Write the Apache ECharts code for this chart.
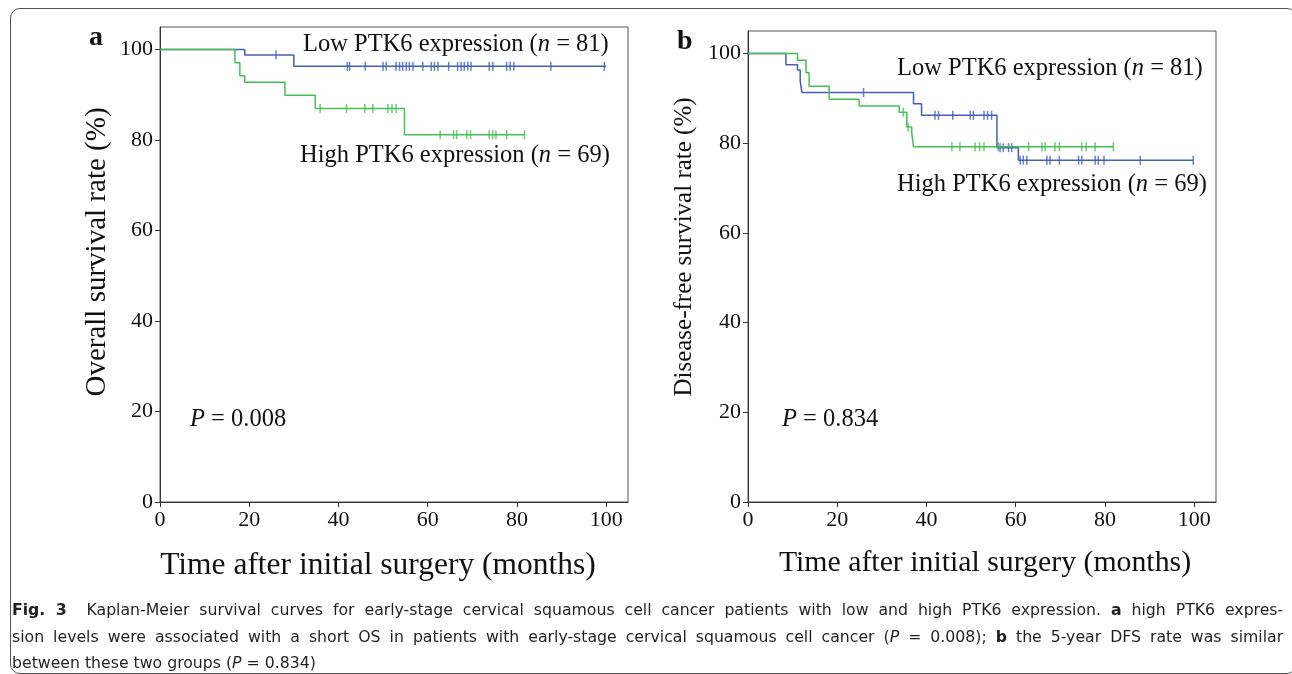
<!DOCTYPE html>
<html>
<head>
<meta charset="utf-8">
<script src="https://cdn.jsdelivr.net/npm/echarts@6/dist/echarts.min.js"></script>
<style>
  html, body { margin: 0; padding: 0; background: #fff; }
  #chart { position: absolute; left: 0; top: 0; width: 1292px; height: 674px; }
  .frame {
    position: absolute; left: 10px; top: 8px; width: 1285px; height: 664px;
    border: 1px solid #555; border-radius: 10px;
  }
  .caption {
    position: absolute; left: 12px; top: 597px; width: 1135px;
    transform: scaleX(1.12); transform-origin: 0 0;
    font-family: "Liberation Sans Narrow", "DejaVu Sans Condensed", "Liberation Sans", sans-serif;
    font-stretch: condensed;
    font-size: 15.6px; line-height: 26.5px; color: #231f20;
  }
  .caption .j { text-align: justify; text-align-last: justify; }
</style>
</head>
<body>
<div class="frame"></div>
<div id="chart"></div>
<div class="caption">
  <div class="j"><b>Fig. 3</b>&nbsp; Kaplan-Meier survival curves for early-stage cervical squamous cell cancer patients with low and high PTK6 expression. <b>a</b> high PTK6 expres-</div>
  <div class="j">sion levels were associated with a short OS in patients with early-stage cervical squamous cell cancer (<i>P</i> = 0.008); <b>b</b> the 5-year DFS rate was similar</div>
  <div>between these two groups (<i>P</i> = 0.834)</div>
</div>
<script>
// axis ticks
const tickValues = [0, 20, 40, 60, 80, 100]

// panel a: overall survival, step times (months) and survival (%)
const osLowTime = [0, 19.0, 30.0, 100]
const osLowSurv = [100, 98.8, 96.3, 96.3]
const osLowCensor = [26, 42, 42.5, 46, 50, 50.7, 52.9, 53.7, 54.4, 55.2, 55.9, 56.7, 58.9,
  60.8, 61.5, 62.3, 64.7, 66.7, 67.5, 68.2, 69.0, 69.7, 73.8, 74.6, 77.7, 78.5, 79.3, 87.6, 99.6]
const osHighTime = [0, 16.8, 17.9, 19.0, 28.0, 34.8, 54.8, 81.7]
const osHighSurv = [100, 97.1, 94.2, 92.8, 89.9, 87.0, 81.2, 81.2]
const osHighCensor = [35.9, 41.8, 45.9, 47.7, 51.1, 52.0, 52.9,
  62.8, 65.8, 66.5, 68.8, 69.6, 73.8, 74.6, 75.3, 77.7, 81.7]

// panel b: disease-free survival
const dfsLowTime = [0, 8.5, 11.1, 11.7, 12.1, 37.1, 38.9, 55.8, 60.6, 99.8]
const dfsLowSurv = [100, 97.5, 96.3, 93.8, 91.3, 88.8, 86.2, 79.0, 76.2, 76.2]
const dfsLowCensor = [25.9, 41.9, 42.7, 45.9, 49.8, 50.5, 52.9, 53.7, 54.6,
  56.5, 57.2, 58.4, 59.1, 61.0, 61.7, 62.5, 67.0, 67.7, 69.8, 74.1, 74.8, 77.8, 78.5, 79.8, 87.9, 99.8]
const dfsHighTime = [0, 11.1, 13.0, 13.7, 18.2, 24.9, 33.9, 35.6, 36.7, 37.1, 81.9]
const dfsHighSurv = [100, 98.5, 95.7, 92.7, 89.8, 88.3, 86.9, 83.6, 82.3, 79.2, 79.2]
const dfsHighCensor = [34.8, 35.9, 45.7, 47.5, 50.9, 51.9, 52.9, 56.1,
  62.9, 65.9, 66.6, 68.8, 69.8, 74.8, 75.8, 77.8, 81.9]

const BLUE = '#4360b8'
const GREEN = '#45be55'
const SERIF = 'Liberation Serif'

const survAt = (times, surv, t) => {
  let v = surv[0]
  for (let i = 0; i < times.length; i++) if (times[i] <= t) v = surv[i]
  return v
}
const curve = (times, surv, color, idx) => ({
  type: 'line', step: 'end', showSymbol: false, silent: true,
  xAxisIndex: idx, yAxisIndex: idx,
  data: times.map((t, i) => [t, surv[i]]),
  lineStyle: { color, width: 1.5 }
})
const censor = (times, surv, marks, color, idx) => ({
  type: 'scatter', symbol: 'rect', symbolSize: [1.5, 9], silent: true,
  xAxisIndex: idx, yAxisIndex: idx,
  data: marks.map((t) => [t, survAt(times, surv, t)]),
  itemStyle: { color }
})

const xAxis = (idx) => ({
  gridIndex: idx, type: 'value', min: 0, max: 104.9,
  splitLine: { show: false },
  axisLine: { lineStyle: { color: '#333', width: 1 } },
  axisTick: { customValues: tickValues, length: 5, lineStyle: { color: '#333' } },
  axisLabel: { customValues: tickValues, color: '#111', fontFamily: SERIF, fontSize: 22, margin: 7 }
})
const yAxis = (idx) => ({
  gridIndex: idx, type: 'value', min: 0, max: 105,
  splitLine: { show: false },
  axisLine: { lineStyle: { color: '#333', width: 1 } },
  axisTick: { customValues: tickValues, length: 5, lineStyle: { color: '#333' } },
  axisLabel: { customValues: tickValues, color: '#111', fontFamily: SERIF, fontSize: 22, margin: 7 }
})

const label = (x, y, text, size, extra) => ({
  type: 'text', x, y,
  style: Object.assign({
    text, fill: '#111', fontFamily: SERIF, fontSize: size,
    verticalAlign: 'middle',
    rich: {
      r: { fontFamily: SERIF, fontSize: size, fill: '#111' },
      i: { fontFamily: SERIF, fontSize: size, fontStyle: 'italic', fill: '#111' }
    }
  }, extra || {})
})
const title = (x, y, text, size, rotated) => Object.assign(
  label(x, y, text, size, { align: 'center', rich: {} }),
  rotated ? { rotation: Math.PI / 2 } : {}
)

const chart = echarts.init(document.getElementById('chart'))
chart.setOption({
  animation: false,
  grid: [
    { left: 160, top: 27, width: 468, height: 475, show: true, borderColor: '#555', borderWidth: 1 },
    { left: 748, top: 31, width: 468, height: 471, show: true, borderColor: '#555', borderWidth: 1 }
  ],
  xAxis: [xAxis(0), xAxis(1)],
  yAxis: [yAxis(0), yAxis(1)],
  graphic: [
    label(89, 38, 'a', 28, { fontWeight: 'bold' }),
    label(677, 42, 'b', 28, { fontWeight: 'bold' }),
    label(303, 45, '{r|Low PTK6 expression (}{i|n}{r| = 81)}', 24.5),
    label(300, 156, '{r|High PTK6 expression (}{i|n}{r| = 69)}', 24.5),
    label(190, 420, '{i|P}{r| = 0.008}', 24.5),
    label(897, 69, '{r|Low PTK6 expression (}{i|n}{r| = 81)}', 24.5),
    label(897, 185, '{r|High PTK6 expression (}{i|n}{r| = 69)}', 24.5),
    label(782, 420, '{i|P}{r| = 0.834}', 24.5),
    title(97, 252, 'Overall survival rate (%)', 29, true),
    title(684, 247, 'Disease-free survival rate (%)', 25, true),
    title(378, 566, 'Time after initial surgery (months)', 31.5),
    title(985, 563, 'Time after initial surgery (months)', 29.8)
  ],
  series: [
    curve(osLowTime, osLowSurv, BLUE, 0),
    curve(osHighTime, osHighSurv, GREEN, 0),
    censor(osLowTime, osLowSurv, osLowCensor, BLUE, 0),
    censor(osHighTime, osHighSurv, osHighCensor, GREEN, 0),
    curve(dfsLowTime, dfsLowSurv, BLUE, 1),
    curve(dfsHighTime, dfsHighSurv, GREEN, 1),
    censor(dfsLowTime, dfsLowSurv, dfsLowCensor, BLUE, 1),
    censor(dfsHighTime, dfsHighSurv, dfsHighCensor, GREEN, 1)
  ]
})
</script>
</body>
</html>
